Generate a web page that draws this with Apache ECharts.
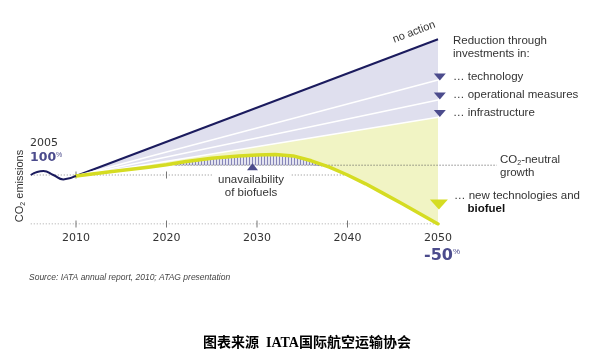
<!DOCTYPE html>
<html><head><meta charset="utf-8">
<script src="https://cdn.jsdelivr.net/npm/echarts@6/dist/echarts.min.js"></script>
<style>html,body{margin:0;padding:0;background:#fff}#c{width:592px;height:356px}</style>
</head><body><div id="c"></div>
<script>
// ---------------- data ----------------
const xTickLabels = [2010, 2020, 2030, 2040, 2050];
const waveYears = [2005, 2006.4, 2007.5, 2008.6, 2010];
const waveValues = [100, 104, 100, 95.5, 99];
const scenarioYears = [2010, 2050];
const noAction = [99, 238.5];
const technology = [99, 197];
const operational = [99, 176.5];
const infrastructure = [99, 159];
const curveYears = [2010, 2014, 2018, 2020, 2022, 2025, 2028, 2030, 2032, 2034, 2036, 2038, 2040, 2042, 2044, 2046, 2048, 2050];
const curveValues = [99, 103.5, 108, 110.5, 113.5, 117, 119.5, 120.5, 121, 119.5, 114.5, 108, 100, 91, 81, 71, 60.5, 50];
const baseLevel = 100;      // 2005 = 100 %
const neutralLevel = 110;   // CO2-neutral growth
const floorLevel = 50;      // -50 % in 2050
const neutralYears = [2021, 2056.5];
const baseYears = [2005, 2039.7];
const floorYears = [2005, 2050];
const reductionMarkerValues = [200, 180.6, 162.8];
const biofuelMarkerValue = 70;
const unavailMarker = [2029.5, 108.5];

const pairs = (xs, ys) => xs.map((x, i) => [x, ys[i]]);
const NAVY = '#1b1b5e', PURPLE = '#4b4b8c', YEL = '#d5dc22';

// hatch pattern
const pat = document.createElement('canvas');
pat.width = 3; pat.height = 4;
const pc = pat.getContext('2d');
pc.fillStyle = '#e4e4f0'; pc.fillRect(0, 0, 3, 4);
pc.fillStyle = '#8686b8'; pc.fillRect(0, 0, 1, 4);

const chart = echarts.init(document.getElementById('c'), null, {renderer: 'canvas'});
const lineBase = {type: 'line', symbol: 'none', silent: true, animation: false};
const T = (x, y, text, style, extra) => Object.assign({
  type: 'text', x, y, z: 100, silent: true,
  style: Object.assign({text, fill: '#333', font: '11.5px "Liberation Sans"', align: 'left', verticalAlign: 'middle'}, style || {})
}, extra || {});
const downTri = 'path://M0,0L12,0L6,7Z';
const upTri = 'path://M6,0L12,7L0,7Z';

chart.setOption({
  animation: false,
  grid: {left: 30.75, right: 63.5, top: 28, bottom: 132},
  xAxis: {
    type: 'value', min: 2005, max: 2060, interval: 5,
    axisLine: {show: false}, axisTick: {show: false}, splitLine: {show: false},
    axisLabel: {
      margin: 9, color: '#333', fontFamily: 'DejaVu Sans', fontSize: 11,
      formatter: v => xTickLabels.includes(v) ? String(v) : ''
    }
  },
  yAxis: {type: 'value', min: 50, max: 250, show: false},
  series: [
    Object.assign({}, lineBase, {data: pairs(scenarioYears, noAction), lineStyle: {color: NAVY, width: 2}, areaStyle: {color: '#dfdfee', origin: 'start', opacity: 1}}),
    Object.assign({}, lineBase, {data: pairs(scenarioYears, technology), lineStyle: {color: '#fff', width: 1.5}}),
    Object.assign({}, lineBase, {data: pairs(scenarioYears, operational), lineStyle: {color: '#fff', width: 1.5}}),
    Object.assign({}, lineBase, {data: pairs(scenarioYears, infrastructure), lineStyle: {color: '#fff', width: 1.5}, areaStyle: {color: '#f1f4c4', origin: 'start', opacity: 1}}),
    Object.assign({}, lineBase, {data: pairs(curveYears, curveValues), lineStyle: {width: 0}, areaStyle: {color: {image: pat, repeat: 'repeat'}, origin: 'start', opacity: 1}}),
    Object.assign({}, lineBase, {data: curveYears.map((x, i) => [x, Math.min(curveValues[i], neutralLevel)]), lineStyle: {width: 0}, areaStyle: {color: '#ffffff', origin: 'start', opacity: 1}}),
    Object.assign({}, lineBase, {data: baseYears.map(x => [x, baseLevel]), lineStyle: {color: '#8a8a8a', width: 1, type: [1, 2]}}),
    Object.assign({}, lineBase, {data: floorYears.map(x => [x, floorLevel]), lineStyle: {color: '#8a8a8a', width: 1, type: [1, 2]}}),
    Object.assign({}, lineBase, {data: neutralYears.map(x => [x, neutralLevel]), lineStyle: {color: '#555', width: 1, type: [1, 2]}}),
    {type: 'scatter', silent: true, z: 10, symbol: 'rect', symbolSize: [1, 7], itemStyle: {color: '#777', opacity: 1},
      data: [[2010, floorLevel], [2020, floorLevel], [2030, floorLevel], [2040, floorLevel], [2010, baseLevel], [2020, baseLevel]]},
    Object.assign({}, lineBase, {z: 11, data: pairs(curveYears, curveValues), lineStyle: {color: YEL, width: 3.5, cap: 'round', join: 'round'}}),
    Object.assign({}, lineBase, {z: 11, data: pairs(waveYears, waveValues), smooth: 0.5, lineStyle: {color: NAVY, width: 2}}),
    {type: 'scatter', silent: true, z: 12, symbol: downTri, symbolSize: [12, 7], itemStyle: {color: PURPLE, opacity: 1},
      data: reductionMarkerValues.map(v => [2050.2, v])},
    {type: 'scatter', silent: true, z: 12, symbol: downTri, symbolSize: [18, 10], itemStyle: {color: YEL, opacity: 1},
      data: [[2050.1, biofuelMarkerValue]]},
    {type: 'scatter', silent: true, z: 12, symbol: upTri, symbolSize: [11, 7], itemStyle: {color: PURPLE, opacity: 1},
      data: [unavailMarker]}
  ],
  graphic: [
    T(30, 143, '2005', {font: '11px "DejaVu Sans"'}),
    T(30, 158, '{n|100}{p|%}', {rich: {n: {font: 'bold 12.5px "DejaVu Sans"', fill: PURPLE}, p: {fontSize: 7, fill: PURPLE, padding: [0, 0, 6, 0]}}}),
    T(424, 256, '{n|-50}{p|%}', {rich: {n: {font: 'bold 16px "DejaVu Sans"', fill: PURPLE}, p: {fontSize: 8, fill: PURPLE, padding: [0, 0, 8, 0]}}}),
    T(0, 0, 'no action', {font: '11px "Liberation Sans"', align: 'center'}, {x: 414, y: 32, rotation: 0.36}),
    T(453, 41, 'Reduction through'),
    T(453, 54, 'investments in:'),
    T(453, 77, '\u2026 technology'),
    T(453, 95, '\u2026 operational measures'),
    T(453, 113, '\u2026 infrastructure'),
    T(500, 160, '{a|CO}{s|2}{a|-neutral}', {rich: {a: {font: '11.5px "Liberation Sans"', fill: '#333'}, s: {fontSize: 7, fill: '#333', padding: [6, 0, 0, 0]}}}),
    T(500, 173, 'growth'),
    T(454, 196, '\u2026 new technologies and'),
    T(467.5, 209, 'biofuel', {font: 'bold 11.5px "Liberation Sans"', fill: '#111'}),
    T(251, 179.5, 'unavailability', {font: '11.5px "Liberation Sans"', align: 'center', backgroundColor: '#fff', padding: [1, 6]}),
    T(251, 193, 'of biofuels', {font: '11.5px "Liberation Sans"', align: 'center'}),
    T(0, 0, '{a|CO}{s|2}{a| emissions}', {align: 'center', rich: {a: {font: '11px "Liberation Sans"', fill: '#333'}, s: {fontSize: 7, fill: '#333', padding: [6, 0, 0, 0]}}}, {x: 20, y: 186, rotation: Math.PI / 2}),
    T(29, 278, 'Source: IATA annual report, 2010; ATAG presentation', {font: 'italic 8.5px "Liberation Sans"', fill: '#444'}),
    T(307, 343, '图表来源  IATA国际航空运输协会', {font: 'bold 14px "Liberation Serif", "Noto Sans CJK SC"', fill: '#000', align: 'center'})
  ]
});
</script></body></html>
